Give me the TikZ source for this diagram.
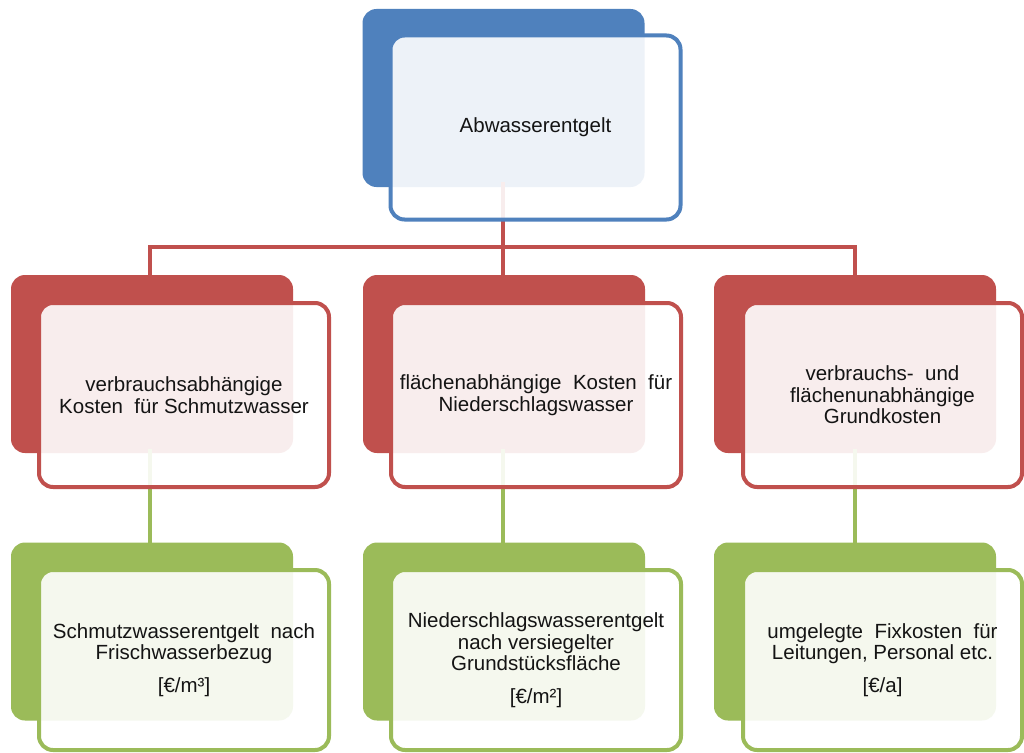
\documentclass[tikz,border=0pt]{standalone}
\usepackage{fontspec}
\setmainfont{Liberation Sans}
\begin{document}
\begin{tikzpicture}[x=1pt,y=-1pt,
  every node/.style={inner sep=0pt, outer sep=0pt},
  backbox/.style={rectangle, rounded corners=14pt, fill=#1, minimum width=282pt, minimum height=178pt},
  frontbox/.style={rectangle, rounded corners=14pt, draw=#1, line width=4pt, fill=white, fill opacity=0.9, text opacity=1,
     minimum width=290pt, minimum height=184pt, align=center, text=black!92,
     font=\fontsize{20.5}{21.5}\selectfont},
  conn/.style={draw=#1, line width=4pt},
]
\definecolor{cblue}{HTML}{4F81BD}
\definecolor{cred}{HTML}{C0504D}
\definecolor{cgreen}{HTML}{9BBB59}
\useasboundingbox (0,0) rectangle (1024,752);
\fill[white] (0,0) rectangle (1024,752);

% back boxes
\node[backbox=cblue] (tb) at (503.5,98) {};
\node[backbox=cred] (m1b) at (152,364) {};
\node[backbox=cred] (m2b) at (504,364) {};
\node[backbox=cred] (m3b) at (855,364) {};
\node[backbox=cgreen] (b1b) at (152,631.5) {};
\node[backbox=cgreen] (b2b) at (504,631.5) {};
\node[backbox=cgreen] (b3b) at (855,631.5) {};

% connectors
\coordinate (hj) at (503,247);
\draw[conn=cred] ([yshift=5pt]tb.south -| hj) -- (hj);
\draw[conn=cred] (hj) -| (m1b.north -| 150,0);
\draw[conn=cred] (hj) -- (m2b.north -| hj);
\draw[conn=cred] (hj) -| (m3b.north);
\draw[conn=cgreen] ([yshift=4pt]m1b.south -| 150,0) -- (b1b.north -| 150,0);
\draw[conn=cgreen] ([yshift=4pt]m2b.south -| hj) -- (b2b.north -| hj);
\draw[conn=cgreen] ([yshift=4pt]m3b.south) -- (b3b.north);

% front boxes
\node[frontbox=cblue] (tf) at (535.5,127.5) {Abwasserentgelt};
\node[frontbox=cred] (m1f) at (184,395) {verbrauchsabhängige\\Kosten\ \ für Schmutzwasser};
\node[frontbox=cred] (m2f) at (536,395) {flächenabhängige\ \ Kosten\ \ für\\Niederschlagswasser};
\node[frontbox=cred, minimum width=279pt] (m3f) at (882.5,395) {verbrauchs-\ \ und\\flächenunabhängige\\Grundkosten};
\node[frontbox=cgreen, minimum height=180pt] (b1f) at (184,660) {Schmutzwasserentgelt\ \ nach\\Frischwasserbezug\\[11pt][€/m³]};
\node[frontbox=cgreen, minimum height=180pt] (b2f) at (536,660) {Niederschlagswasserentgelt\\nach versiegelter\\Grundstücksfläche\\[11pt][€/m²]};
\node[frontbox=cgreen, minimum height=180pt, minimum width=279pt] (b3f) at (882.5,660) {umgelegte\ \ Fixkosten\ \ für\\Leitungen, Personal etc.\\[11pt][€/a]};
\end{tikzpicture}
\end{document}
